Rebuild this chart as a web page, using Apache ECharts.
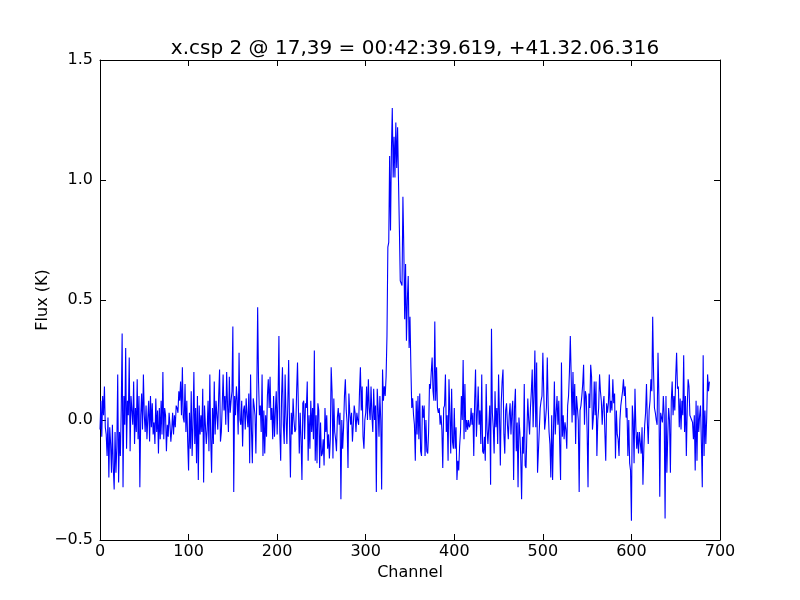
<!DOCTYPE html>
<html>
<head>
<meta charset="utf-8">
<script src="https://cdn.jsdelivr.net/npm/echarts@6/dist/echarts.min.js"></script>
<style>html,body{margin:0;padding:0;background:#fff}#c{width:800px;height:600px}</style>
</head>
<body>
<div id="c"></div>
<script>
var titleText = 'x.csp 2 @ 17,39 = 00:42:39.619, +41.32.06.316';
var xName = 'Channel';
var yName = 'Flux (K)';
var xTicks = [0, 100, 200, 300, 400, 500, 600, 700];
var yTicks = [-0.5, 0.0, 0.5, 1.0, 1.5];
// flux per channel, channel = index (0..688)
var flux = [
-0.04, 0.08, -0.07, 0.10, 0.02, 0.14, -0.03, -0.06, -0.15, 0.01,
-0.24, -0.03, -0.10, -0.22, -0.02, -0.20, -0.29, -0.05, -0.22, -0.11,
0.19, -0.26, -0.05, -0.15, 0.05, 0.36, -0.28, 0.10, -0.02, 0.30,
-0.12, 0.08, 0.02, 0.26, -0.13, 0.10, 0.04, -0.02, 0.16, -0.10,
0.05, -0.05, 0.17, -0.08, 0.10, -0.28, 0.02, 0.11, -0.04, 0.19,
0.02, -0.05, 0.06, -0.08, 0.01, 0.08, -0.09, 0.10, -0.03, 0.07,
-0.06, -0.01, -0.10, 0.09, -0.05, 0.04, -0.14, 0.05, -0.08, 0.08,
-0.06, 0.20, -0.08, 0.05, 0.02, -0.13, -0.02, -0.07, 0.03, -0.02,
-0.09, -0.04, 0.03, -0.06, 0.02, -0.03, 0.06, 0.05, 0.03, 0.12,
0.08, 0.16, 0.02, 0.22, 0.01, -0.01, 0.15, -0.05, 0.08, -0.09,
-0.21, 0.03, -0.12, 0.12, -0.15, -0.02, 0.20, -0.10, 0.05, -0.18,
0.10, -0.25, 0.06, -0.06, 0.02, -0.05, 0.13, -0.26, 0.06, -0.02,
-0.10, -0.04, 0.08, -0.13, 0.19, -0.08, -0.22, 0.05, -0.10, 0.16,
-0.06, 0.08, 0.02, -0.04, 0.10, 0.21, -0.09, -0.05, 0.06, 0.19,
0.04, 0.10, -0.02, 0.20, 0.06, -0.05, 0.18, 0.03, 0.08, 0.12,
0.39, -0.30, 0.10, 0.02, 0.14, 0.08, -0.06, 0.28, 0.00, -0.02,
0.08, -0.11, 0.04, 0.06, -0.04, 0.09, 0.02, -0.03, 0.11, -0.18,
0.19, -0.04, -0.18, 0.09, 0.06, 0.02, -0.14, 0.10, 0.47, 0.16,
0.02, 0.06, -0.05, 0.19, -0.15, 0.04, -0.14, 0.02, -0.07, 0.10,
0.17, 0.05, 0.18, 0.00, 0.05, -0.08, 0.10, -0.07, 0.04, 0.12,
-0.06, 0.08, 0.35, -0.05, -0.17, 0.10, 0.22, -0.02, -0.10, 0.19,
0.02, -0.10, 0.06, 0.25, -0.02, -0.24, 0.03, -0.06, 0.09, 0.00,
-0.05, -0.04, 0.12, 0.24, 0.05, -0.14, 0.03, -0.08, -0.25, 0.07,
0.08, -0.08, 0.07, 0.05, 0.16, -0.17, 0.02, -0.12, 0.08, -0.05,
0.05, -0.08, 0.29, -0.17, 0.02, -0.18, 0.07, 0.04, -0.20, -0.01,
-0.15, -0.14, -0.08, -0.19, 0.05, -0.05, 0.02, -0.12, -0.06, -0.16,
-0.08, 0.22, 0.12, -0.16, 0.09, -0.05, -0.08, -0.13, 0.01, 0.05,
-0.02, 0.03, -0.33, 0.00, -0.12, -0.03, 0.10, 0.17, 0.04, -0.01,
-0.20, 0.11, 0.03, -0.02, 0.03, -0.09, -0.02, 0.06, 0.03, -0.05,
0.03, 0.00, -0.02, 0.12, 0.22, 0.04, 0.14, -0.07, -0.12, 0.00,
0.03, 0.14, 0.00, 0.17, 0.05, 0.00, 0.14, 0.02, -0.05, 0.13,
0.00, 0.06, -0.30, 0.13, 0.05, -0.07, 0.10, 0.00, -0.29, 0.21,
0.08, 0.14, 0.10, 0.18, 0.35, 0.72, 0.74, 1.10, 0.79, 1.12,
1.30, 1.01, 1.18, 1.01, 1.24, 1.05, 1.22, 1.00, 0.80, 0.58,
0.57, 0.56, 0.93, 0.72, 0.42, 0.65, 0.33, 0.50, 0.60, 0.30,
0.43, 0.22, 0.05, 0.09, 0.02, -0.02, -0.17, 0.08, -0.06, 0.10,
-0.08, 0.11, -0.13, -0.15, 0.06, 0.01, 0.06, -0.15, 0.00, -0.13,
-0.14, -0.05, 0.15, 0.13, 0.20, 0.26, 0.12, 0.08, 0.41, 0.08,
0.22, 0.05, 0.03, 0.05, -0.02, 0.02, -0.04, -0.20, 0.05, 0.06,
0.19, -0.05, 0.02, -0.17, 0.17, 0.03, -0.14, 0.13, -0.09, -0.12,
0.05, -0.12, -0.03, -0.25, -0.17, -0.21, -0.11, -0.05, 0.10, 0.00,
0.25, -0.08, 0.15, -0.05, 0.00, -0.04, 0.00, -0.03, -0.02, 0.05,
-0.02, 0.03, -0.15, 0.08, 0.21, -0.07, 0.03, 0.14, -0.02, 0.04,
-0.10, 0.19, -0.13, -0.14, -0.07, -0.17, 0.15, -0.04, -0.10, -0.10,
0.06, -0.27, 0.38, 0.03, -0.03, -0.14, 0.12, -0.03, 0.05, -0.10,
0.19, 0.02, -0.19, 0.07, 0.16, 0.21, -0.06, -0.14, 0.04, 0.07,
-0.02, -0.08, 0.02, 0.07, -0.06, 0.03, 0.08, -0.25, 0.05, 0.13,
-0.13, -0.01, -0.28, 0.01, -0.05, -0.15, -0.33, -0.07, -0.14, 0.15,
-0.19, -0.20, -0.05, 0.09, 0.00, -0.06, 0.05, 0.12, 0.21, -0.03,
0.10, 0.29, -0.03, 0.24, -0.22, -0.22, -0.04, 0.05, 0.08, 0.10,
0.28, 0.12, -0.04, 0.00, 0.05, 0.26, 0.06, -0.05, -0.10, -0.24,
0.02, -0.25, -0.05, 0.16, -0.06, 0.03, 0.10, -0.02, 0.08, -0.10,
-0.25, 0.24, -0.07, 0.02, -0.08, -0.01, -0.04, -0.12, 0.06, 0.10,
0.20, 0.35, 0.18, -0.01, 0.20, 0.02, 0.15, -0.10, 0.10, 0.05,
0.00, -0.30, 0.04, 0.06, 0.10, 0.15, 0.23, -0.02, 0.12, 0.10,
-0.05, -0.28, 0.11, 0.05, 0.23, 0.18, -0.04, 0.01, 0.16, 0.02,
0.16, -0.15, 0.00, 0.05, 0.19, 0.12, 0.08, -0.02, 0.06, 0.10,
-0.05, -0.17, 0.07, 0.03, 0.07, 0.19, 0.03, 0.08, 0.04, 0.17,
0.07, 0.11, -0.16, 0.04, -0.06, -0.08, -0.15, 0.00, 0.06, 0.09,
0.12, 0.17, 0.10, 0.14, 0.01, 0.05, -0.15, 0.00, -0.18, -0.21,
-0.42, 0.06, 0.00, -0.18, 0.13, -0.03, -0.12, -0.05, -0.14, -0.05,
-0.05, -0.14, -0.03, -0.27, -0.12, -0.02, 0.03, 0.15, -0.01, -0.10,
0.04, 0.08, 0.17, 0.12, 0.43, 0.20, 0.05, 0.03, 0.00, -0.02,
0.28, 0.10, -0.32, 0.03, 0.01, -0.01, 0.10, 0.02, -0.41, 0.10,
-0.22, -0.07, 0.05, 0.00, -0.22, 0.08, 0.16, 0.02, 0.10, 0.04,
0.18, 0.28, 0.13, 0.14, -0.03, 0.09, -0.04, 0.08, 0.02, 0.27,
-0.05, 0.10, -0.15, 0.05, 0.17, 0.14, 0.02, 0.01, 0.00, -0.01,
-0.08, 0.02, -0.21, 0.08, -0.17, 0.06, -0.05, 0.02, 0.06, -0.10,
-0.28, 0.27, -0.15, 0.04, -0.10, 0.01, 0.19, 0.12, 0.16
];

var seriesData = flux.map(function (v, i) { return [i, v]; });
var FONT = 'DejaVu Sans';
function yFmt(v) { var s = v.toFixed(1); return s.replace('-', '\u2212'); }

var chart = echarts.init(document.getElementById('c'), null, { renderer: 'canvas' });
var tickStyle = { show: true, inside: true, length: 6, lineStyle: { color: '#000', width: 1 } };
var lineStyleAxis = { show: true, onZero: false, lineStyle: { color: '#000', width: 1 } };
chart.setOption({
  animation: false,
  backgroundColor: '#ffffff',
  title: {
    text: titleText,
    left: 410, top: 34, textAlign: 'center',
    textStyle: { fontFamily: FONT, fontSize: 20, fontWeight: 'normal', color: '#000' }
  },
  grid: { left: 100, right: 80, top: 60, bottom: 60, show: false },
  xAxis: [{
    type: 'value', min: xTicks[0], max: xTicks[xTicks.length - 1], interval: 100,
    position: 'bottom',
    name: xName, nameLocation: 'middle', nameGap: 25, nameMoveOverlap: false,
    nameTextStyle: { fontFamily: FONT, fontSize: 16, color: '#000' },
    axisLine: lineStyleAxis, axisTick: tickStyle,
    axisLabel: { fontFamily: FONT, fontSize: 16, color: '#000', margin: 4 },
    splitLine: { show: false }
  }, {
    type: 'value', min: xTicks[0], max: xTicks[xTicks.length - 1], interval: 100,
    position: 'top',
    axisLine: lineStyleAxis, axisTick: tickStyle,
    axisLabel: { show: false }, splitLine: { show: false }
  }],
  yAxis: [{
    type: 'value', min: yTicks[0], max: yTicks[yTicks.length - 1], interval: 0.5,
    position: 'left',
    name: yName, nameLocation: 'middle', nameGap: 49, nameRotate: 90, nameMoveOverlap: false,
    nameTextStyle: { fontFamily: FONT, fontSize: 16, color: '#000' },
    axisLine: lineStyleAxis, axisTick: tickStyle,
    axisLabel: { fontFamily: FONT, fontSize: 16, color: '#000', margin: 7, formatter: yFmt },
    splitLine: { show: false }
  }, {
    type: 'value', min: yTicks[0], max: yTicks[yTicks.length - 1], interval: 0.5,
    position: 'right',
    axisLine: lineStyleAxis, axisTick: tickStyle,
    axisLabel: { show: false }, splitLine: { show: false }
  }],
  series: [{
    type: 'line',
    xAxisIndex: 0, yAxisIndex: 0,
    data: seriesData,
    showSymbol: false,
    symbol: 'none',
    lineStyle: { color: '#0000ff', width: 1.1 },
    itemStyle: { color: '#0000ff' }
  }]
});
</script>
</body>
</html>
